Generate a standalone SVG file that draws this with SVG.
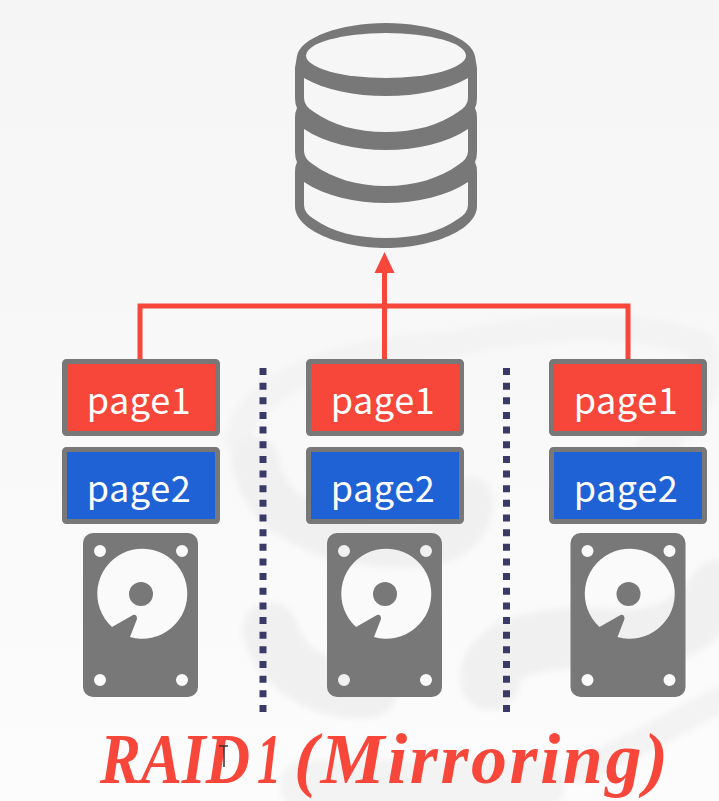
<svg xmlns="http://www.w3.org/2000/svg" width="719" height="801" viewBox="0 0 719 801">
<style>
.wm{fill:none;stroke:#f0f0f0;stroke-linecap:round}
.wl{fill:none;stroke:#f3f3f3;stroke-linecap:round}
.p1{fill:#f7473a;stroke:#787878;stroke-width:5}
.p2{fill:#1f62d6;stroke:#787878;stroke-width:5}
.lbl{font-family:"Noto Sans CJK JP","Noto Sans",sans-serif;font-size:36px;fill:#fff;text-anchor:middle;letter-spacing:.6px}
.gray{fill:#787878}
.inner{fill:#f6f6f6}
.wire{fill:none;stroke:#f7473a;stroke-width:5}
.dots{fill:none;stroke:#3a3a68;stroke-width:7;stroke-dasharray:7 7.65}
</style>
<defs>
<linearGradient id="bg" x1="0" y1="0" x2="0" y2="1"><stop offset="0" stop-color="#f5f5f5"/><stop offset="0.6" stop-color="#f9f9f9"/><stop offset="1" stop-color="#fcfcfc"/></linearGradient>
<filter id="soft" x="-5%" y="-5%" width="110%" height="110%"><feGaussianBlur stdDeviation="3"/></filter>
<g id="disk">
<path class="gray" fill-rule="evenodd" d="M93 533H188A10 10 0 0 1 198 543V687A10 10 0 0 1 188 697H93A10 10 0 0 1 83 687V543A10 10 0 0 1 93 533ZM94 551a6 6 0 1 0 12 0a6 6 0 1 0 -12 0ZM176 551a6 6 0 1 0 12 0a6 6 0 1 0 -12 0ZM94 680a6 6 0 1 0 12 0a6 6 0 1 0 -12 0ZM176 680a6 6 0 1 0 12 0a6 6 0 1 0 -12 0ZM130 637A45 45 0 1 0 112 627L133 615Q137 614 137 619Z"/>
<circle class="gray" cx="141" cy="594" r="12"/>
</g>
</defs>
<rect width="719" height="801" fill="url(#bg)"/>
<g id="watermark" filter="url(#soft)">
<path class="wl" stroke-width="26" d="M238 440C250 380 340 350 450 345C530 325 640 320 700 345"/>
<path class="wl" stroke-width="30" d="M700 345C712 370 700 420 650 450"/>
<path class="wm" stroke-width="46" d="M255 460C265 520 330 545 410 545C450 545 470 525 470 500"/>
<path class="wm" stroke-width="60" d="M490 680C490 640 560 635 620 640C670 640 700 620 719 590"/>
<path class="wm" stroke-width="55" d="M270 630C285 680 340 695 370 690"/>
<path class="wl" stroke-width="50" d="M305 785H540"/>
<path class="wl" stroke-width="26" d="M580 770C630 750 690 715 719 700"/>
</g>
<g id="database">
<path class="gray" d="M297 56C300 38 340 23 386 23C432 23 472 38 475 56Q476 62 477 68V98Q477 104 475 108Q477 112 477 118V152Q477 158 475 162Q477 166 477 172V206C477 230 432 248 386 248C340 248 295 230 295 206V172Q295 166 297 162Q295 158 295 152V118Q295 112 297 108Q295 104 295 98V68Q296 62 297 56Z"/>
<ellipse class="inner" cx="386" cy="55.500" rx="80" ry="22.500"/>
<path class="inner" d="M304 78C325 90 355 96 386 96C417 96 447 90 468 78V98Q468 106 458 112C440 125 415 132 386 132C357 132 332 125 314 112Q304 106 304 98Z"/>
<path class="inner" d="M304 129C325 143 355 150 386 150C417 150 447 143 468 129V151Q468 159 458 165C440 178 415 186 386 186C357 186 332 178 314 165Q304 159 304 151Z"/>
<path class="inner" d="M304 182C325 196 355 203 386 203C417 203 447 196 468 182V205Q468 213 458 219C440 232 415 238 386 238C357 238 332 232 314 219Q304 213 304 205Z"/>
</g>
<g id="connectors">
<path class="wire" d="M140 360V306H628V360"/>
<path class="wire" d="M384.500 360V270"/>
<path fill="#f7473a" d="M384.500 252L374.500 273H394.500Z"/>
<path class="dots" d="M263 368V716"/>
<path class="dots" d="M506.500 368V716"/>
</g>
<g id="col1">
<rect class="p1" x="64.500" y="361.500" width="153" height="72" rx="2"/><text class="lbl" x="139" y="414">page1</text>
<rect class="p2" x="64.500" y="449.500" width="153" height="72" rx="2"/><text class="lbl" x="139" y="502">page2</text>
<use href="#disk"/>
</g>
<g id="col2">
<rect class="p1" x="308.500" y="361.500" width="153" height="72" rx="2"/><text class="lbl" x="383" y="414">page1</text>
<rect class="p2" x="308.500" y="449.500" width="153" height="72" rx="2"/><text class="lbl" x="383" y="502">page2</text>
<use href="#disk" x="244"/>
</g>
<g id="col3">
<rect class="p1" x="551.500" y="361.500" width="153" height="72" rx="2"/><text class="lbl" x="626" y="414">page1</text>
<rect class="p2" x="551.500" y="449.500" width="153" height="72" rx="2"/><text class="lbl" x="626" y="502">page2</text>
<use href="#disk" x="487.500"/>
</g>
<g id="title">
<text y="783" font-family="'Liberation Serif',serif" font-weight="bold" font-style="italic" font-size="72" fill="#f7473a"><tspan x="100" textLength="150" lengthAdjust="spacingAndGlyphs">RAID</tspan> <tspan x="257" textLength="24" lengthAdjust="spacingAndGlyphs">1</tspan> <tspan x="294" textLength="374" lengthAdjust="spacing">(Mirroring)</tspan></text>
<path d="M219 746H228M224 746V767" fill="none" stroke="#333" stroke-width="1.500"/>
</g>
</svg>
